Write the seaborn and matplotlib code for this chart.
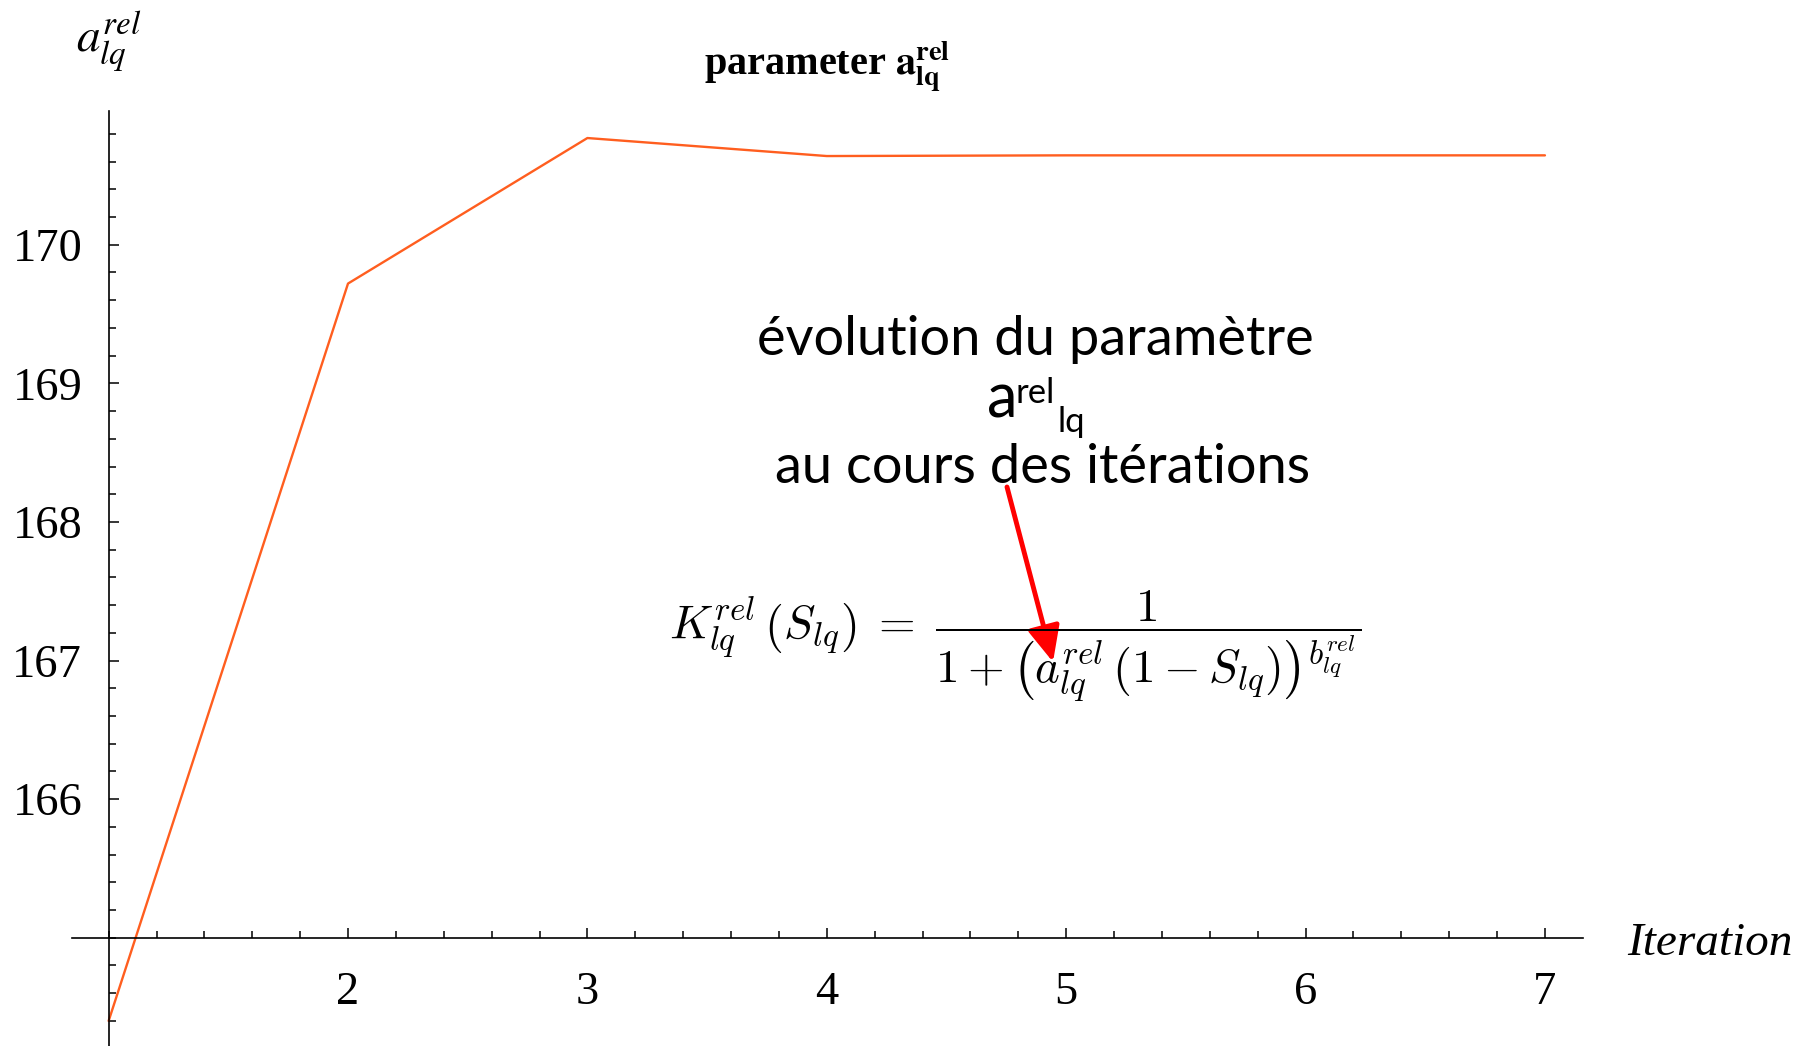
import numpy as np
import pandas as pd
import seaborn as sns
import matplotlib
matplotlib.use("Agg")
import matplotlib.pyplot as plt
from matplotlib.ticker import MultipleLocator

# ---- data ----
iterations = [1, 2, 3, 4, 5, 6, 7]
a_rel = [164.40, 169.72, 170.77, 170.64, 170.645, 170.645, 170.645]
x_tick_values = [2, 3, 4, 5, 6, 7]
y_tick_values = [166, 167, 168, 169, 170]

sns.set_theme(style="white")
plt.rcParams["font.family"] = ["Liberation Serif", "DejaVu Serif"]
plt.rcParams["mathtext.fontset"] = "stix"
plt.rcParams["text.color"] = "black"
plt.rcParams["xtick.color"] = "black"
plt.rcParams["ytick.color"] = "black"
plt.rcParams["xtick.labelcolor"] = "black"
plt.rcParams["ytick.labelcolor"] = "black"

W, H = 1801, 1046
fig = plt.figure(figsize=(W / 100, H / 100), dpi=100)
fig.patch.set_facecolor("white")
ax = fig.add_axes([72 / W, 0, (1583 - 72) / W, (1046 - 111) / H])
ax.set_facecolor("none")

df = pd.DataFrame({"iteration": iterations, "a_rel": a_rel})
sns.lineplot(data=df, x="iteration", y="a_rel", ax=ax, color="#FF5E1F", lw=1.7)
ax.set_xlabel("")
ax.set_ylabel("")

ax.set_xlim(0.847, 7.159)
ax.set_ylim(164.219, 170.965)
ax.spines["left"].set_position(("data", 1))
ax.spines["bottom"].set_position(("data", 165))
for s in ["top", "right"]:
    ax.spines[s].set_visible(False)
for s in ["left", "bottom"]:
    ax.spines[s].set_color("black")
    ax.spines[s].set_linewidth(1.2)

ax.set_xticks(x_tick_values)
ax.set_xticklabels([str(v) for v in x_tick_values])
ax.set_yticks(y_tick_values)
ax.set_yticklabels([str(v) for v in y_tick_values])
ax.xaxis.set_minor_locator(MultipleLocator(0.2))
ax.yaxis.set_minor_locator(MultipleLocator(0.2))
ax.tick_params(which="both", direction="in", color="black", width=1.1,
               bottom=True, left=True)
ax.tick_params(which="major", length=7.5)
ax.tick_params(which="minor", length=5)
ax.tick_params(axis="y", which="major", labelsize=33.5, pad=19)
ax.tick_params(axis="x", which="major", labelsize=33.5, pad=24)
ax.grid(False)

# title
fig.text(827 / W, 1 - 75 / H, r"parameter $\mathbf{a}^{\mathbf{rel}}_{\mathbf{lq}}$",
         ha="center", va="baseline", fontsize=29, fontweight="bold")
# y label
fig.text(76 / W, 1 - 52 / H, r"$a_{lq}^{rel}$", ha="left", va="baseline", fontsize=34)
# x label
fig.text(1627 / W, 1 - 955 / H, "Iteration", ha="left", va="baseline",
         fontsize=34, style="italic")

# annotation text
ann_font = ["Lato", "DejaVu Sans"]
fig.text(1035 / W, 1 - 355 / H, "évolution du paramètre", family=ann_font,
         ha="center", va="baseline", fontsize=39, color="black")
fig.text(987 / W, 1 - 418 / H, "a", family=ann_font,
         ha="left", va="baseline", fontsize=44, color="black")
fig.text(1015 / W, 1 - 403 / H, "rel", family=ann_font,
         ha="left", va="baseline", fontsize=25, color="black")
fig.text(1057 / W, 1 - 432 / H, "lq", family=ann_font,
         ha="left", va="baseline", fontsize=25, color="black")
fig.text(1043 / W, 1 - 483 / H, "au cours des itérations", family=ann_font,
         ha="center", va="baseline", fontsize=39, color="black")

# formula
fig.text(1015 / W, 1 - 640 / H,
         r"$K_{lq}^{rel}\,\left(S_{lq}\right)\;=\;\dfrac{1}{1+\left(a_{lq}^{rel}\,\left(1-S_{lq}\right)\right)^{b_{lq}^{rel}}}$",
         ha="center", va="baseline", fontsize=34, math_fontfamily="cm", color="black")

# red arrow
ax.annotate("", xy=(1053, H - 662), xytext=(1007, H - 487),
            xycoords="figure pixels", textcoords="figure pixels",
            arrowprops=dict(arrowstyle="-|>,head_length=1.08,head_width=0.49",
                            color="red", lw=3.5, shrinkA=0, shrinkB=0,
                            mutation_scale=20))

fig.savefig("out.png", dpi=100, facecolor="white")
